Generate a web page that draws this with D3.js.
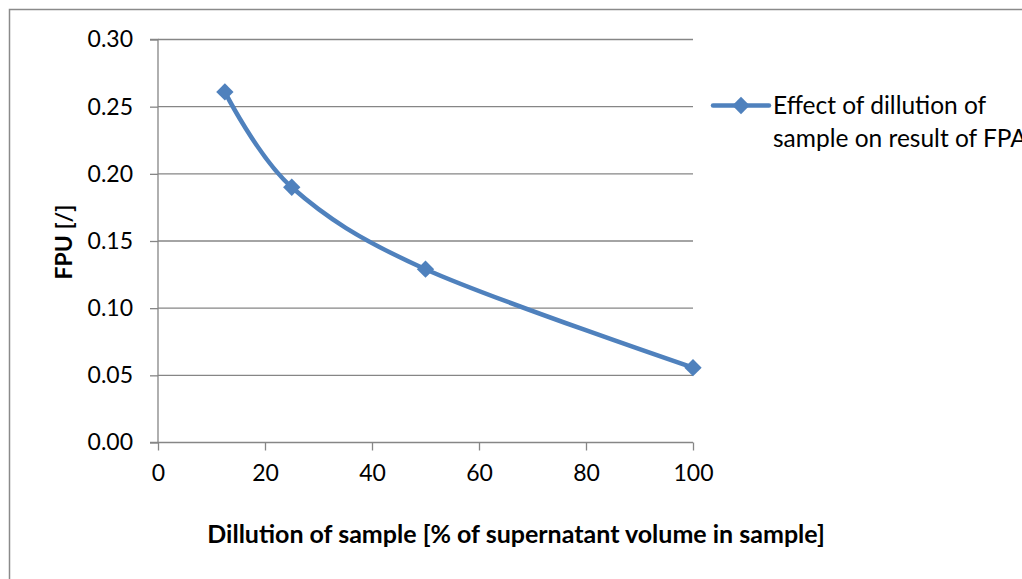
<!DOCTYPE html>
<html>
<head>
<meta charset="utf-8">
<script src="https://cdn.jsdelivr.net/npm/d3@7"></script>
<style>
  body { margin: 0; background: #fff; }
  svg { display: block; font-family: Lato, "Open Sans", sans-serif; }
</style>
</head>
<body>
<svg id="chart" width="1022" height="579"></svg>
<script>
// values
const dilution = [12.5, 25, 50, 100];
const fpu = [0.261, 0.190, 0.129, 0.0557];
const xTicks = [0, 20, 40, 60, 80, 100];
const yTicks = [0, 0.05, 0.10, 0.15, 0.20, 0.25, 0.30];
const seriesName = ["Effect of dillution of", "sample on result of FPA"];
const xTitle = "Dillution of sample [% of supernatant volume in sample]";
const yTitle = "FPU [/]";

const margin = { top: 39.5, right: 329, bottom: 136.5, left: 158 };
const width = 1022, height = 579;
const blue = "#4f81bd", grid = "#868686";

const svg = d3.select("#chart");

// chart area frame (runs off the right and bottom edges)
svg.append("rect")
  .attr("x", 9.5).attr("y", 9.5)
  .attr("width", 1030).attr("height", 600)
  .attr("fill", "none").attr("stroke", "#8a8a8a").attr("stroke-width", 1.5);

const x = d3.scaleLinear().domain([0, 100]).range([margin.left, width - margin.right]);
const y = d3.scaleLinear().domain([0, 0.30]).range([height - margin.bottom, margin.top]);

// gridlines
svg.append("g")
  .selectAll("line")
  .data(yTicks.slice(1))
  .join("line")
    .attr("x1", margin.left).attr("x2", x(100))
    .attr("y1", d => y(d)).attr("y2", d => y(d))
    .attr("stroke", grid).attr("stroke-width", 1.3);

// y axis
const axisLeft = d3.axisLeft(y)
  .tickValues(yTicks)
  .tickFormat(d3.format(".2f"))
  .tickSize(8)
  .tickPadding(17);

svg.append("g")
  .attr("transform", `translate(${ margin.left },0)`)
  .call(axisLeft)
  .call(g => g.select(".domain").attr("stroke", grid).attr("stroke-width", 1.3).attr("d", `M-8,${ y(0.30) }H0V${ y(0) }`))
  .call(g => g.selectAll(".tick line").attr("stroke", grid).attr("stroke-width", 1.3))
  .call(g => g.selectAll(".tick text").attr("font-size", 23).attr("fill", "#000").attr("font-family", "Lato"));

// x axis
const axisBottom = d3.axisBottom(x)
  .tickValues(xTicks)
  .tickSize(8)
  .tickPadding(14);

svg.append("g")
  .attr("transform", `translate(0,${ y(0) })`)
  .call(axisBottom)
  .call(g => g.select(".domain").attr("stroke", grid).attr("stroke-width", 1.3).attr("d", `M${ x(0) - 8 },0H${ x(100) }`))
  .call(g => g.selectAll(".tick line").attr("stroke", grid).attr("stroke-width", 1.3))
  .call(g => g.selectAll(".tick text").attr("font-size", 23).attr("fill", "#000").attr("font-family", "Lato"));

// axis titles
svg.append("text")
  .attr("x", 516).attr("y", 543)
  .attr("text-anchor", "middle")
  .attr("font-size", 25).attr("font-weight", "bold")
  .text(xTitle);

svg.append("text")
  .attr("transform", `translate(72,242) rotate(-90)`)
  .attr("text-anchor", "middle")
  .attr("font-size", 23).attr("font-weight", "bold")
  .text(yTitle);

// smoothed series line
const points = dilution.map((d, i) => [d, fpu[i]]);
const line = d3.line()
  .x(d => x(d[0]))
  .y(d => y(d[1]))
  .curve(d3.curveCardinal.tension(0));

svg.append("path")
  .datum(points)
  .attr("d", line)
  .attr("fill", "none")
  .attr("stroke", blue)
  .attr("stroke-width", 4.5)
  .attr("stroke-linejoin", "round")
  .attr("stroke-linecap", "round");

const diamond = d3.symbol().type(d3.symbolSquare).size(150);

svg.append("g")
  .selectAll("path")
  .data(points)
  .join("path")
    .attr("transform", d => `translate(${ x(d[0]) },${ y(d[1]) }) rotate(45)`)
    .attr("d", diamond)
    .attr("fill", blue);

// legend
const legend = svg.append("g").attr("transform", "translate(713,105.5)");
legend.append("line")
  .attr("x1", 0).attr("x2", 56)
  .attr("stroke", blue).attr("stroke-width", 4.5).attr("stroke-linecap", "round");
legend.append("path")
  .attr("transform", "translate(28,0) rotate(45)")
  .attr("d", diamond)
  .attr("fill", blue);
legend.append("text")
  .attr("x", 60).attr("y", 0)
  .attr("font-size", 24.5)
  .selectAll("tspan")
  .data(seriesName)
  .join("tspan")
    .attr("x", 60)
    .attr("dy", (d, i) => i === 0 ? "0.35em" : 33)
    .text(d => d);
</script>
</body>
</html>
